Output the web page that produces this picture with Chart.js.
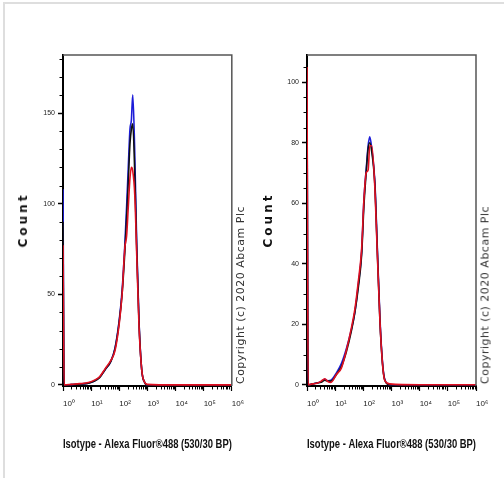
<!DOCTYPE html>
<html>
<head>
<meta charset="utf-8">
<script src="https://cdn.jsdelivr.net/npm/chart.js@4"></script>
<style>
  body { margin: 0; background: #fff; }
  #wrap { position: relative; width: 504px; height: 478px; overflow: hidden; background: #fff; }
  #edge { position: absolute; left: 3px; top: 2px; width: 520px; height: 500px; border-top: 2px solid #dedede; border-left: 2px solid #dedede; }
  canvas { position: absolute; top: 0; }
  .count { position: absolute; font: bold 12px 'DejaVu Sans', sans-serif; letter-spacing: 3px; color: #111;
           transform: translate(-50%, -50%) rotate(-90deg); white-space: nowrap; }
  .copy { position: absolute; font: 11px 'DejaVu Sans', sans-serif; letter-spacing: 0.5px; color: #333;
          transform: translate(-50%, -50%) rotate(-90deg); white-space: nowrap; }
</style>
</head>
<body>
<div id="wrap">
  <div id="edge"></div>
  <canvas id="left" width="252" height="478" style="left:0"></canvas>
  <canvas id="right" width="252" height="478" style="left:252px"></canvas>
  <div class="count" style="left:23px; top:220px">Count</div>
  <div class="count" style="left:268px; top:220px">Count</div>
  <div class="copy" style="left:240px; top:295px">Copyright (c) 2020 Abcam Plc</div>
  <div class="copy" style="left:485px; top:295px">Copyright (c) 2020 Abcam Plc</div>
</div>
<script>
// x positions are log10 of the fluorescence intensity
const xTitle = 'Isotype - Alexa Fluor®488 (530/30 BP)';
const xTicks = [0, 1, 2, 3, 4, 5, 6];
const xTickLabels = ['10⁰', '10¹', '10²', '10³', '10⁴', '10⁵', '10⁶'];

// left panel
const leftX     = [0, 0.04, 0.3, 0.6, 0.9, 1.1, 1.3, 1.5, 1.7, 1.85, 2.0, 2.1, 2.2, 2.26, 2.32, 2.38, 2.43, 2.48, 2.55, 2.62, 2.7, 2.8, 2.9, 3.0, 4, 5, 6];
const leftBlue  = [108, 0, 0.2, 0.5, 1, 2, 4.2, 8.5, 13, 20.5, 36, 52, 78, 98, 120, 141, 146, 160, 128, 78, 36, 8, 1.5, 0, 0, 0, 0];
const leftBlack = [90, 0, 0.2, 0.5, 1, 2, 4, 8.5, 13, 20, 35, 50, 74, 92, 112, 133, 141, 144, 117, 75, 35, 8, 1.5, 0, 0, 0, 0];
const leftRed   = [77, 0, 0.3, 0.7, 1.3, 2.5, 4.5, 9, 13.5, 19, 34, 50, 76, 82, 98, 114, 120, 118, 105, 72, 33, 8, 1.5, 0.3, 0, 0, 0];
const leftYTicks = [0, 50, 100, 150];
const leftYMinor = [10, 20, 30, 40, 60, 70, 80, 90, 110, 120, 130, 140, 160, 170, 180];

// right panel
const rightX     = [0, 0.04, 0.2, 0.35, 0.5, 0.63, 0.75, 0.85, 1.05, 1.22, 1.4, 1.58, 1.7, 1.82, 1.94, 2.02, 2.1, 2.17, 2.23, 2.3, 2.41, 2.49, 2.59, 2.68, 2.76, 2.94, 4, 5, 6];
const rightBlue  = [100, 0, 0.3, 0.6, 1, 1.8, 1.3, 1.5, 4, 7, 12, 18.5, 24, 33, 44, 61, 71, 79, 82, 78, 67, 47, 22, 7.5, 1.8, 0, 0, 0, 0];
const rightBlack = [95, 0, 0.3, 0.6, 0.8, 1.5, 1.2, 1.2, 3.5, 6, 11, 18, 24, 32, 43, 59, 70, 78, 80, 77, 66, 46, 21, 7, 1.6, 0, 0, 0, 0];
const rightRed   = [105, 0, 0.3, 0.5, 1.2, 2, 1.0, 0.8, 3.5, 5.5, 11.5, 19, 25, 34, 45, 61, 70, 71, 79, 79, 65, 45, 21, 7, 1.5, 0.3, 0, 0, 0];
const rightYTicks = [0, 20, 40, 60, 80, 100];
const rightYMinor = [5, 10, 15, 25, 30, 35, 45, 50, 55, 65, 70, 75, 85, 90, 95, 105];

const narrow = "'Liberation Sans Narrow', 'Arial Narrow', 'Liberation Sans', sans-serif";

const pts = (xs, ys) => xs.map((x, i) => ({ x: x, y: ys[i] }));

const frame = {
    id: 'frame',
    afterDraw(chart) {
        const { ctx, chartArea: a, scales } = chart;
        ctx.save();
        ctx.strokeStyle = '#555';
        ctx.lineWidth = 1.5;
        ctx.beginPath();
        ctx.moveTo(a.left, a.top);
        ctx.lineTo(a.right, a.top);
        ctx.lineTo(a.right, a.bottom);
        ctx.stroke();

        // minor ticks
        ctx.strokeStyle = '#000';
        ctx.lineWidth = 1;
        ctx.beginPath();
        for (let d = 0; d < 6; d++) {
            for (let k = 2; k <= 9; k++) {
                const px = Math.round(scales.x.getPixelForValue(d + Math.log10(k))) + 0.5;
                ctx.moveTo(px, a.bottom);
                ctx.lineTo(px, a.bottom + 3.5);
            }
        }
        chart.options.minorY.forEach(v => {
            const py = Math.round(scales.y.getPixelForValue(v)) + 0.5;
            ctx.moveTo(a.left - 3.5, py);
            ctx.lineTo(a.left, py);
        });
        ctx.stroke();
        ctx.restore();
    }
};

function makePanel(id, xs, blue, black, red, yMin, yMax, yTicks, yMinor, yWidth, padRight) {
    new Chart(document.getElementById(id).getContext('2d'), {
        type: 'line',
        data: {
            datasets: [
                { data: pts(xs, red), borderColor: '#e01020' },
                { data: pts(xs, black), borderColor: '#111' },
                { data: pts(xs, blue), borderColor: '#1c1cd8' }
            ]
        },
        options: {
            responsive: false,
            animation: false,
            events: [],
            minorY: yMinor,
            layout: { padding: { left: 0, right: padRight, top: 55, bottom: 22 } },
            elements: {
                point: { radius: 0 },
                line: { borderWidth: 1.6, cubicInterpolationMode: 'monotone' }
            },
            plugins: { legend: { display: false }, tooltip: { enabled: false } },
            scales: {
                x: {
                    type: 'linear', min: 0, max: 6,
                    afterBuildTicks: s => { s.ticks = xTicks.map(v => ({ value: v })); },
                    afterFit: s => { s.height = 70; },
                    grid: { drawOnChartArea: false, tickLength: 5, tickColor: '#000', tickWidth: 1.2 },
                    border: { color: '#000', width: 2 },
                    ticks: {
                        autoSkip: false, maxRotation: 0, align: 'start', padding: 8,
                        color: '#222', font: { size: 8, family: narrow },
                        callback: v => xTickLabels[xTicks.indexOf(v)]
                    },
                    title: {
                        display: true, text: xTitle, color: '#111',
                        font: { size: 12, weight: 'bold', family: narrow }
                    }
                },
                y: {
                    min: yMin, max: yMax,
                    afterBuildTicks: s => { s.ticks = yTicks.map(v => ({ value: v })); },
                    afterFit: s => { s.width = yWidth; },
                    grid: { drawOnChartArea: false, tickLength: 5, tickColor: '#000', tickWidth: 1.5 },
                    border: { color: '#000', width: 2 },
                    ticks: { padding: 3, color: '#222', font: { size: 7, family: narrow } }
                }
            }
        },
        plugins: [frame]
    });
}

makePanel('left', leftX, leftBlue, leftBlack, leftRed, -0.6, 182, leftYTicks, leftYMinor, 63, 20);
makePanel('right', rightX, rightBlue, rightBlack, rightRed, -0.4, 109, rightYTicks, rightYMinor, 55, 28);
</script>
</body>
</html>
